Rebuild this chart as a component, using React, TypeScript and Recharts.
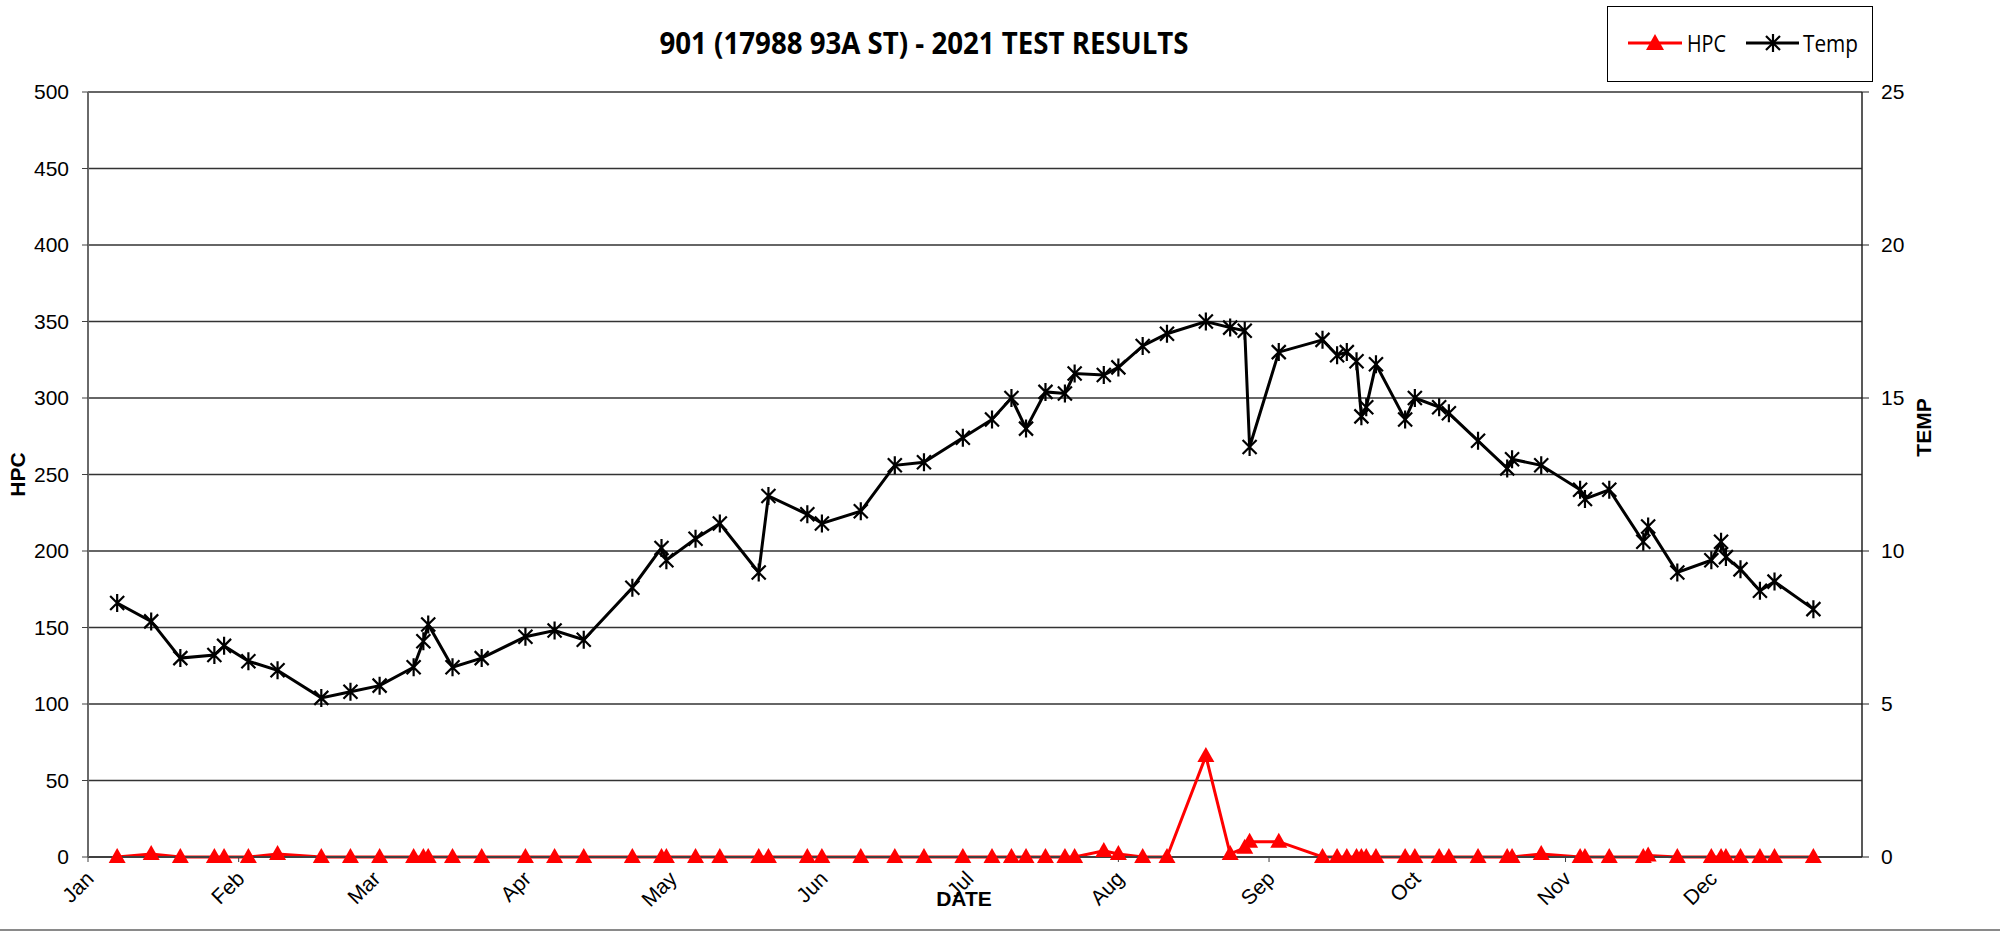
import React from "react";
import { LineChart, Line, XAxis, YAxis, CartesianGrid } from "recharts";

// day of year (0 = Jan 1) for each sample
const days = [
  6, 13, 19, 26, 28, 33, 39, 48, 54, 60, 67, 69, 70, 75, 81, 90, 96, 102, 112, 118, 119, 125, 130, 138,
  140, 148, 151, 159, 166, 172, 180, 186, 190, 193, 197, 201, 203, 209, 212, 217, 222, 230, 235, 238,
  239, 245, 254, 257, 259, 261, 262, 263, 265, 271, 273, 278, 280, 286, 292, 293, 299, 307, 308, 313,
  320, 321, 327, 334, 336, 337, 340, 344, 347, 355,
];

const hpcValues = [
  0, 2, 0, 0, 0, 0, 2, 0, 0, 0, 0, 0, 0, 0, 0, 0, 0, 0, 0, 0, 0, 0, 0, 0,
  0, 0, 0, 0, 0, 0, 0, 0, 0, 0, 0, 0, 0, 4, 2, 0, 0, 66, 2, 6,
  10, 10, 0, 0, 0, 0, 0, 0, 0, 0, 0, 0, 0, 0, 0, 0, 2, 0, 0, 0,
  0, 1, 0, 0, 0, 0, 0, 0, 0, 0,
];

const tempValues = [
  8.3, 7.7, 6.5, 6.6, 6.9, 6.4, 6.1, 5.2, 5.4, 5.6, 6.2, 7.05, 7.6, 6.2, 6.5, 7.2, 7.4, 7.1, 8.8, 10.1, 9.7, 10.4, 10.9, 9.3,
  11.8, 11.2, 10.9, 11.3, 12.8, 12.9, 13.7, 14.3, 15.0, 14.0, 15.2, 15.15, 15.8, 15.75, 16.0, 16.7, 17.1, 17.5, 17.3, 17.2,
  13.4, 16.5, 16.9, 16.4, 16.5, 16.2, 14.4, 14.7, 16.1, 14.3, 15.0, 14.7, 14.5, 13.6, 12.7, 13.0, 12.8, 12.0, 11.7, 12.0,
  10.3, 10.8, 9.3, 9.7, 10.3, 9.8, 9.4, 8.7, 9.0, 8.1,
];

const monthStarts = [0, 31, 59, 90, 120, 151, 181, 212, 243, 273, 304, 334];
const monthNames = ["Jan", "Feb", "Mar", "Apr", "May", "Jun", "Jul", "Aug", "Sep", "Oct", "Nov", "Dec"];
const hpcTicks = [0, 50, 100, 150, 200, 250, 300, 350, 400, 450, 500];
const tempTicks = [0, 5, 10, 15, 20, 25];

const data = days.map((day, i) => ({ day, hpc: hpcValues[i], temp: tempValues[i] }));

const FONT = "'Liberation Sans', Arial, sans-serif";
const NARROW = "'Liberation Sans Narrow', 'Open Sans', sans-serif";

const Triangle = (props: any) => {
  const { cx, cy, index } = props;
  if (cx == null || cy == null) return null;
  return <polygon key={index} points={`${cx},${cy - 9} ${cx - 8.5},${cy + 6} ${cx + 8.5},${cy + 6}`} fill="#ff0000" />;
};

const Star = (props: any) => {
  const { cx, cy, index } = props;
  if (cx == null || cy == null) return null;
  return (
    <path
      key={index}
      d={`M${cx - 7},${cy - 7}L${cx + 7},${cy + 7}M${cx - 7},${cy + 7}L${cx + 7},${cy - 7}M${cx},${cy - 9}L${cx},${cy + 9}`}
      stroke="#000"
      strokeWidth={2.2}
      fill="none"
    />
  );
};

const MonthTick = (props: any) => {
  const { x, y, payload } = props;
  const px = x + 7;
  const py = y + 14;
  return (
    <text x={px} y={py} textAnchor="end" fontSize={21} fontFamily={FONT} fill="#000" transform={`rotate(-45 ${px} ${py})`}>
      {monthNames[monthStarts.indexOf(payload.value)]}
    </text>
  );
};

const hpcTitle = (p: any) => {
  const vb = p.viewBox;
  const x = vb.x + 17;
  const y = vb.y + vb.height / 2;
  return (
    <text x={x} y={y} transform={`rotate(-90 ${x} ${y})`} textAnchor="middle" dominantBaseline="central" fontSize={21} fontWeight="bold" fontFamily={FONT}>
      HPC
    </text>
  );
};

const tempTitle = (p: any) => {
  const vb = p.viewBox;
  const x = vb.x + 61;
  const y = vb.y + vb.height / 2 - 47;
  return (
    <text x={x} y={y} transform={`rotate(-90 ${x} ${y})`} textAnchor="middle" dominantBaseline="central" fontSize={21} fontWeight="bold" fontFamily={FONT}>
      TEMP
    </text>
  );
};

const dateTitle = (p: any) => {
  const vb = p.viewBox;
  return (
    <text x={vb.x + vb.width / 2 - 11} y={vb.y + 49} textAnchor="middle" fontSize={21} fontWeight="bold" fontFamily={FONT}>
      DATE
    </text>
  );
};

export default function App() {
  return (
    <div style={{ position: "absolute", left: 0, top: 0, width: 2000, height: 935, background: "#fff" }}>
      <LineChart width={2000} height={935} data={data} margin={{ top: 92, right: 0, bottom: 0, left: 0 }}>
        <CartesianGrid yAxisId="hpc" vertical={false} stroke="#333" strokeWidth={1.3} />
        <XAxis
          dataKey="day"
          type="number"
          domain={[0, 365]}
          ticks={monthStarts}
          interval={0}
          height={78}
          tick={<MonthTick />}
          tickSize={5}
          tickMargin={4}
          axisLine={{ stroke: "#404040", strokeWidth: 2 }}
          tickLine={{ stroke: "#404040" }}
          label={{ content: dateTitle }}
        />
        <YAxis
          yAxisId="hpc"
          domain={[0, 500]}
          ticks={hpcTicks}
          interval={0}
          width={88}
          tickSize={6}
          tickMargin={13}
          tick={{ fontSize: 21, fontFamily: FONT, fill: "#000" }}
          axisLine={{ stroke: "#6a6a6a", strokeWidth: 2 }}
          tickLine={{ stroke: "#404040" }}
          label={{ content: hpcTitle }}
        />
        <YAxis
          yAxisId="temp"
          orientation="right"
          domain={[0, 25]}
          ticks={tempTicks}
          interval={0}
          width={138}
          tickSize={7}
          tickMargin={12}
          tick={{ fontSize: 21, fontFamily: FONT, fill: "#000" }}
          axisLine={{ stroke: "#222", strokeWidth: 1.5 }}
          tickLine={{ stroke: "#222" }}
          label={{ content: tempTitle }}
        />
        <Line yAxisId="temp" dataKey="temp" stroke="#000" strokeWidth={3} dot={<Star />} isAnimationActive={false} />
        <Line yAxisId="hpc" dataKey="hpc" stroke="#ff0000" strokeWidth={3} dot={<Triangle />} isAnimationActive={false} />
      </LineChart>
      <svg width={2000} height={935} style={{ position: "absolute", left: 0, top: 0, pointerEvents: "none" }}>
        <text x={924} y={54} textAnchor="middle" fontSize={30} fontWeight="bold" fontFamily={NARROW} textLength={529} lengthAdjust="spacingAndGlyphs">
          901 (17988 93A ST) - 2021 TEST RESULTS
        </text>
        <rect x={1607.5} y={6.5} width={265} height={75} fill="#fff" stroke="#000" strokeWidth={1} />
        <line x1={1628} y1={43} x2={1682} y2={43} stroke="#ff0000" strokeWidth={3} />
        <polygon points="1655,34 1646,50 1664,50" fill="#ff0000" />
        <text x={1687} y={52} fontSize={24} fontFamily={NARROW} textLength={39} lengthAdjust="spacingAndGlyphs">HPC</text>
        <line x1={1746} y1={43} x2={1799} y2={43} stroke="#000" strokeWidth={3} />
        <path d="M1766,36L1780,50M1766,50L1780,36M1773,34L1773,52" stroke="#000" strokeWidth={2.2} />
        <text x={1803} y={52} fontSize={24} fontFamily={NARROW} textLength={55} lengthAdjust="spacingAndGlyphs">Temp</text>
        <line x1={0} y1={930} x2={2000} y2={930} stroke="#8a8a8a" strokeWidth={2} />
      </svg>
    </div>
  );
}
